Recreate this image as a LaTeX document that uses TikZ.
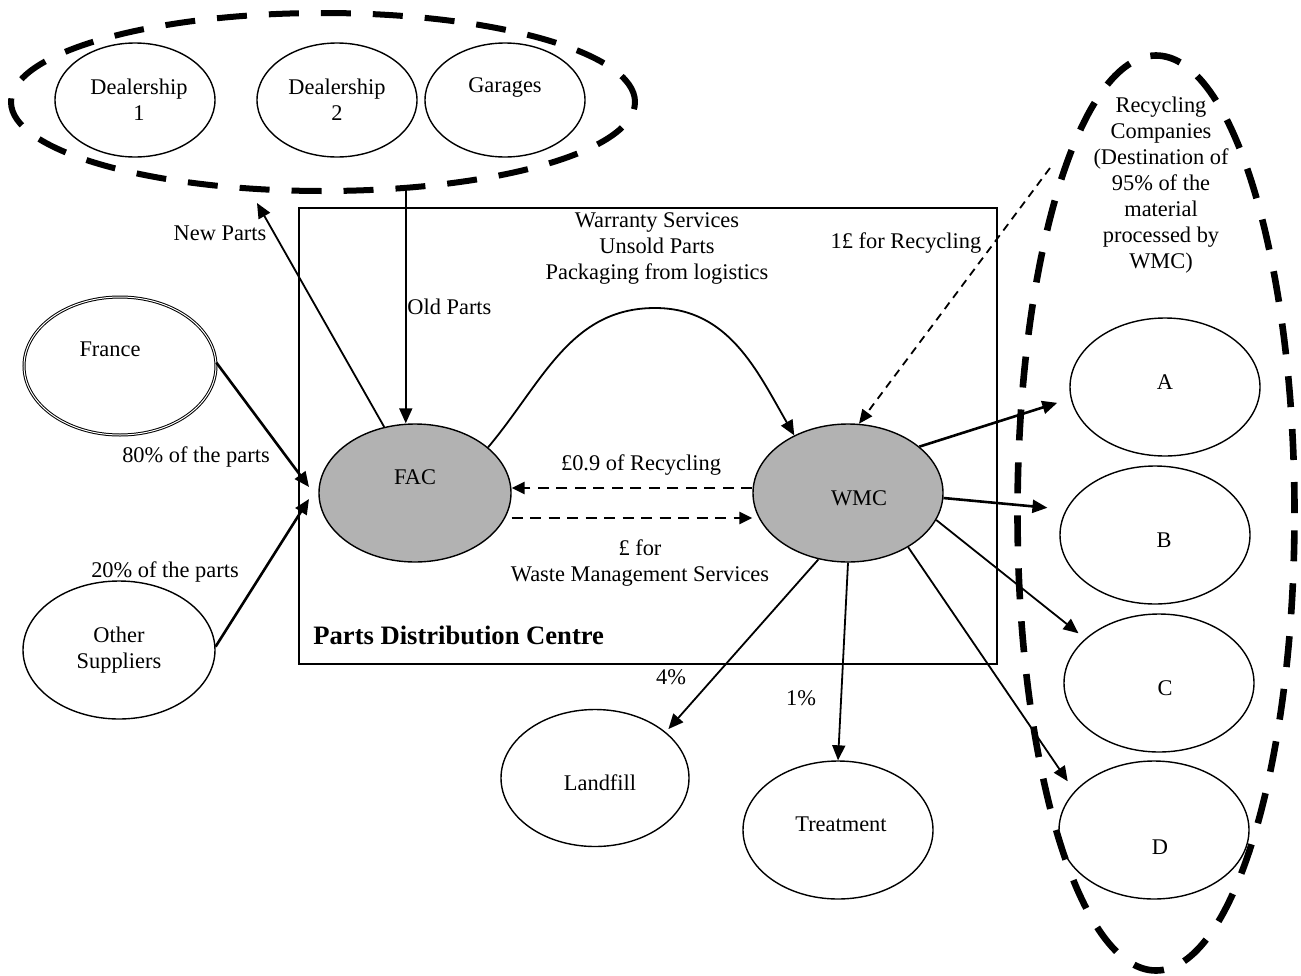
\documentclass[tikz,border=0pt]{standalone}
\usepackage{fontspec}
\setmainfont{Liberation Serif}
\usetikzlibrary{shapes.geometric,arrows.meta}
\begin{document}
\begin{tikzpicture}[x=0.5pt,y=-0.5pt,
  font=\fontsize{11.2}{13}\selectfont,
  ell/.style={ellipse,draw,line width=0.7pt,inner sep=0pt,minimum width=95pt,minimum height=69pt},
  smallell/.style={minimum width=80pt,minimum height=57pt},
  core/.style={fill=black!30},
  group/.style={ellipse,draw,line width=3pt,dash pattern=on 15pt off 11pt,inner sep=0pt},
  groupline/.style={line width=3.3pt,dash pattern=on 15.5pt off 11pt},
  arr/.style={line width=0.9pt,-{Triangle[length=7.5pt,width=6.5pt]}},
  arrthick/.style={line width=1.3pt,-{Triangle[length=7.5pt,width=6.5pt]}},
  darr/.style={line width=1.4pt,dash pattern=on 5.5pt off 3.75pt,-{Triangle[length=6.5pt,width=6pt]}},
  fdarr/.style={line width=0.9pt,dash pattern=on 4pt off 3pt,-{Triangle[length=7pt,width=6pt]}},
  lbl/.style={align=center,inner sep=0pt},
]
\useasboundingbox (0,0) rectangle (1301,975);

% groups
\node[group,minimum width=312pt,minimum height=89pt] (grp) at (323,102) {};
\draw[groupline] (1156,513) ellipse [x radius=69.25pt, y radius=228.75pt];

% box
\node[draw,line width=0.7pt,inner sep=0pt,minimum width=349pt,minimum height=228pt] (pdc) at (648,436) {};

% ellipses
\node[ell,smallell,label={[lbl,xshift=2pt]center:Dealership\\1}] (d1) at (135,100) {};
\node[ell,smallell,label={[lbl]center:Dealership\\2}] (d2) at (337,100) {};
\node[ell,smallell,label={[lbl,yshift=6.5pt]center:Garages}] (gar) at (505,100) {};
\node[ell,minimum width=96pt,double,double distance=0.5pt,line width=0.5pt,label={[lbl,xshift=-5pt,yshift=8.5pt]center:France}] (france) at (120,366) {};
\node[ell,minimum width=96pt,label={[lbl]center:Other\\Suppliers}] (other) at (119,650) {};
\node[ell,core,minimum width=96pt,label={[lbl,yshift=8pt]center:FAC}] (fac) at (415,493) {};
\node[ell,core,label={[lbl,xshift=5.5pt,yshift=-2.5pt]center:WMC}] (wmc) at (848,493) {};
\node[ell,label={[lbl,yshift=2.5pt]center:A}] (a) at (1165,387) {};
\node[ell,label={[lbl,xshift=4.5pt,yshift=-2.5pt]center:B}] (b) at (1155,535) {};
\node[ell,label={[lbl,xshift=3pt,yshift=-2.5pt]center:C}] (c) at (1159,683) {};
\node[ell,label={[lbl,xshift=3pt,yshift=-8.5pt]center:D}] (d) at (1154,830) {};
\node[ell,minimum width=94pt,minimum height=68.5pt,label={[lbl,xshift=2.5pt,yshift=-2.5pt]center:Landfill}] (land) at (595,778) {};
\node[ell,label={[lbl,xshift=1.5pt,yshift=3pt]center:Treatment}] (treat) at (838,830) {};

% free ends
\coordinate (nptip) at (257,203);
\coordinate (t1) at (309,487);
\coordinate (t2) at (309,499);
\coordinate (rtop) at (1050,168);
\coordinate (peak) at (655,308);

% connectors
\draw[arr] (fac.115) -- (nptip);
\draw[arr] (grp.-47.8) -- (grp.-47.8 |- fac.north);
\draw[arrthick] (france.2) -- (t1);
\draw[arrthick] (other.2) -- (t2);
\draw[arr] (fac.32) to[out=50,in=180] (peak) to[out=0,in=120] (wmc.133);
\draw[darr] ([yshift=2.5pt]wmc.west) -- ([yshift=2.5pt]fac.east);
\draw[darr] ([yshift=-12.5pt]fac.east) -- ([yshift=-12.5pt]wmc.west);
\draw[fdarr] (rtop) -- (wmc.81);
\draw[arrthick,shorten >=7pt] (wmc.33.5) -- (a.187);
\draw[arrthick,shorten >=9.3pt] (wmc.-3) -- (b.164);
\draw[arr,shorten >=4.3pt] (wmc.-17) -- (c.149);
\draw[arr,shorten >=6pt] (wmc.-42) -- (d.154);
\draw[arr] (wmc.south) -- (treat.north);
\draw[arr,shorten >=2pt] (wmc.-114) -- (land.33);

% labels
\node[lbl] (lnew) at (220,233) {New Parts};
\node[lbl,anchor=west] (lold) at (407,307) {Old Parts};
\node[lbl] (lwar) at (657,248) {Warranty Services\\Unsold Parts\\Packaging from logistics};
\node[lbl] (lone) at (906,243) {1£ for Recycling};
\node[lbl] (l80) at (196,457) {80\% of the parts};
\node[lbl] (l20) at (165,572) {20\% of the parts};
\node[lbl] (l09) at (641,465) {£0.9 of Recycling};
\node[lbl] (lwms) at (640,563) {£ for\\Waste Management Services};
\node[lbl,anchor=west,font=\fontsize{13.3}{15}\selectfont\bfseries] (lpdc) at (313,635) {Parts Distribution Centre};
\node[lbl] (lfour) at (671,677) {4\%};
\node[lbl] (lonep) at (801,698) {1\%};
\node[lbl] (lrec) at (1161,185) {Recycling\\Companies\\(Destination of\\95\% of the\\material\\processed by\\WMC)};
\end{tikzpicture}
\end{document}
